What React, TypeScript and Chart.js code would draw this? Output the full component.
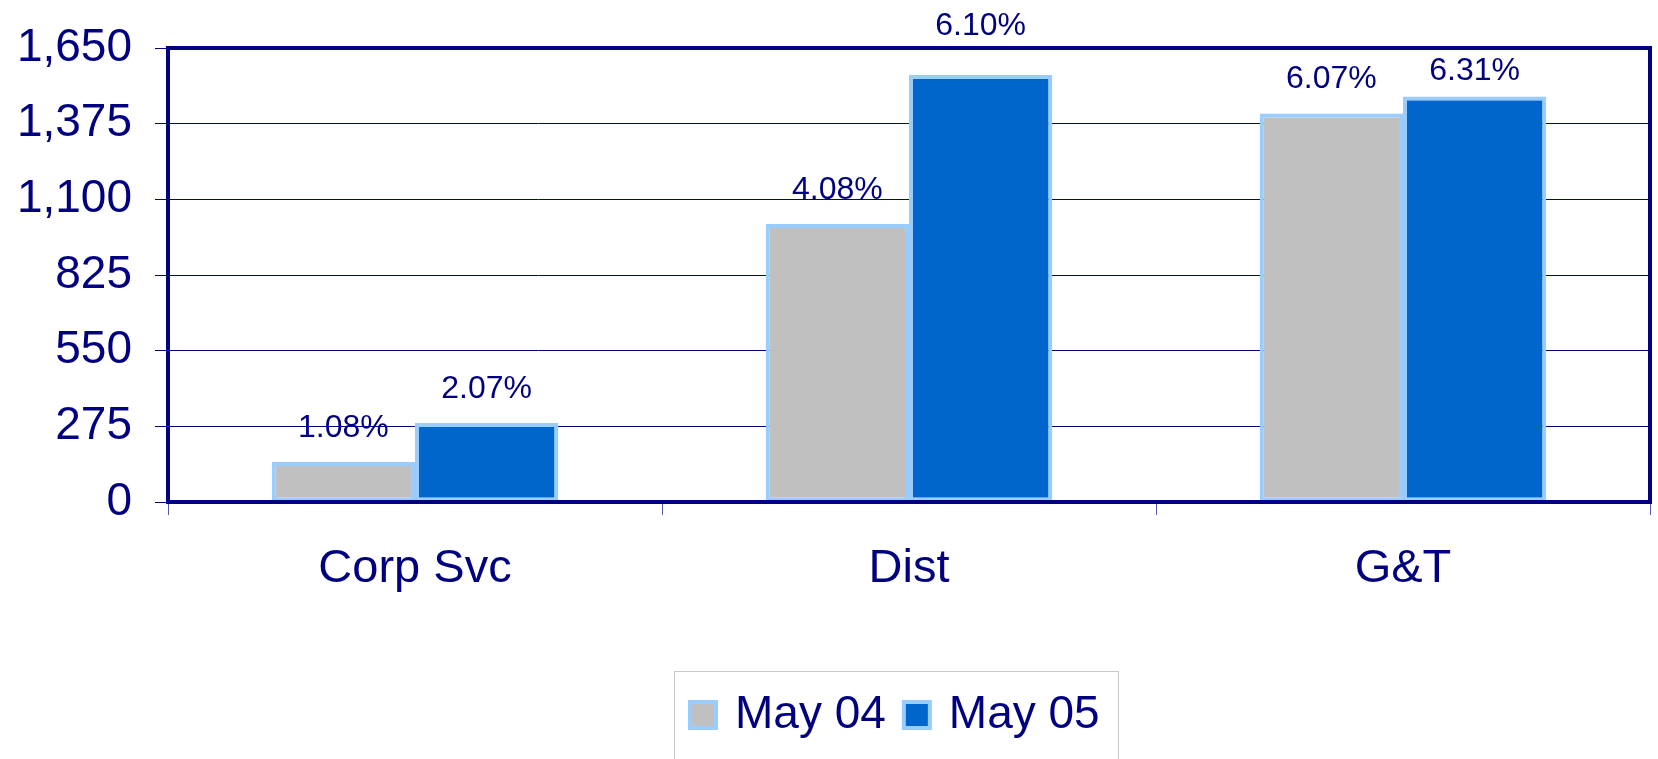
import React, { useEffect, useRef } from 'react';
import { Chart, registerables } from 'chart.js';

Chart.register(...registerables);

// ---- data ----
const categories = ['Corp Svc', 'Dist', 'G&T'];
const seriesNames = ['May 04', 'May 05'];
const may04Values = [145, 1010, 1412];
const may05Values = [287, 1552, 1474];
const may04Pct = [1.08, 4.08, 6.07];
const may05Pct = [2.07, 6.1, 6.31];
const yTickValues = [0, 275, 550, 825, 1100, 1375, 1650];

// ---- styles ----
const NAVY = '#000080';
const GRAY = '#C0C0C0';
const BLUE = '#0066CC';
const EDGE = '#99CCFF';
const FONT = '"Liberation Sans", Arial, sans-serif';

const frameAndLabels = {
  id: 'frameAndLabels',
  afterDatasetsDraw(chart: any) {
    const { ctx, chartArea: a } = chart;
    ctx.save();
    ctx.strokeStyle = NAVY;
    ctx.lineWidth = 4;
    ctx.strokeRect(a.left, a.top, a.right - a.left, a.bottom - a.top);

    ctx.font = `32px ${FONT}`;
    ctx.fillStyle = NAVY;
    ctx.textAlign = 'center';
    ctx.textBaseline = 'alphabetic';
    const pcts = [may04Pct, may05Pct];
    chart.data.datasets.forEach((ds: any, di: number) => {
      const meta = chart.getDatasetMeta(di);
      meta.data.forEach((bar: any, i: number) => {
        const { x, y } = bar.getProps(['x', 'y'], true);
        let base = y - 25;
        const capTop = base - 23;
        if (capTop < a.top + 4 && base > a.top - 6) {
          const below = a.top + 32;
          base = below <= y - 6 ? below : a.top - 13;
        }
        ctx.fillText(pcts[di][i].toFixed(2) + '%', x, base);
      });
    });
    ctx.restore();
  },
};

const boxLegend = {
  id: 'boxLegend',
  afterDraw(chart: any) {
    const { ctx } = chart;
    ctx.save();
    ctx.strokeStyle = '#C8C8C8';
    ctx.lineWidth = 1;
    ctx.strokeRect(674.5, 671.5, 444, 120);
    ctx.font = `46px ${FONT}`;
    ctx.textAlign = 'left';
    ctx.textBaseline = 'alphabetic';
    let x = 688;
    chart.data.datasets.forEach((ds: any) => {
      ctx.fillStyle = EDGE;
      ctx.fillRect(x, 700, 30, 30);
      ctx.fillStyle = ds.backgroundColor;
      ctx.fillRect(x + 4, 704, 22, 22);
      ctx.fillStyle = NAVY;
      ctx.fillText(ds.label, x + 47, 728);
      x += 47 + ctx.measureText(ds.label).width + 16;
    });
    ctx.restore();
  },
};

export default function App() {
  const ref = useRef<HTMLCanvasElement | null>(null);

  useEffect(() => {
    document.body.style.margin = '0';
    const canvas = ref.current;
    if (!canvas) return;
    Chart.defaults.font.family = FONT;
    const chart = new Chart(canvas, {
      type: 'bar',
      data: {
        labels: categories,
        datasets: [
          {
            label: seriesNames[0],
            data: may04Values,
            backgroundColor: GRAY,
            borderColor: EDGE,
            borderWidth: 4,
            borderSkipped: false,
            categoryPercentage: 0.58,
            barPercentage: 1.0,
          },
          {
            label: seriesNames[1],
            data: may05Values,
            backgroundColor: BLUE,
            borderColor: EDGE,
            borderWidth: 4,
            borderSkipped: false,
            categoryPercentage: 0.58,
            barPercentage: 1.0,
          },
        ],
      },
      options: {
        responsive: false,
        animation: false,
        layout: { padding: { top: 48, right: 8, left: 0, bottom: 0 } },
        plugins: {
          legend: { display: false },
          tooltip: { enabled: false },
        },
        scales: {
          x: {
            ticks: { color: NAVY, font: { size: 47, family: FONT }, padding: 26 },
            grid: {
              drawOnChartArea: false,
              drawTicks: true,
              tickLength: 13,
              color: '#5555AA',
              lineWidth: 1,
            },
            border: { display: false },
            afterFit: (s: any) => {
              s.height = 257;
            },
          },
          y: {
            min: 0,
            max: 1650,
            afterBuildTicks: (s: any) => {
              s.ticks = yTickValues.map((v) => ({ value: v }));
            },
            ticks: {
              color: NAVY,
              font: { size: 46, family: FONT },
              padding: 23,
              callback: (v: any) => Number(v).toLocaleString('en-US'),
            },
            grid: {
              color: NAVY,
              lineWidth: 1,
              tickLength: 13,
              drawTicks: true,
            },
            border: { display: false },
            afterFit: (s: any) => {
              s.width = 168;
              s.paddingTop = 0;
              s.paddingBottom = 0;
            },
          },
        },
      },
      plugins: [frameAndLabels, boxLegend],
    });
    return () => chart.destroy();
  }, []);

  return (
    <div style={{ width: 1658, height: 759, background: '#fff' }}>
      <canvas ref={ref} width={1658} height={759} />
    </div>
  );
}
